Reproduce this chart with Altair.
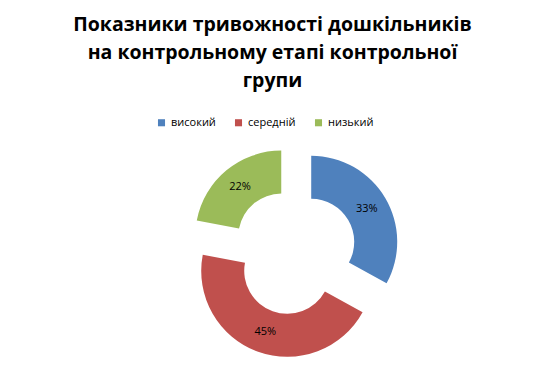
import math
import altair as alt
import pandas as pd

categories = ["високий", "середній", "низький"]
values = [33, 45, 22]
labels = ["33%", "45%", "22%"]
colors = ["#4F81BD", "#C0504D", "#9BBB59"]

title_lines = ["Показники тривожності дошкільників",
               "на контрольному етапі контрольної",
               "групи"]

# layout constants (pixels, relative to plot origin)
TOP = 125
W, H = 529, 367 - TOP
CX, CY = 286, 119
EXPLODE = 20
R_OUT, R_IN = 86, 43

total = sum(values)
rows = []
acc = 0
for i, (c, v, l) in enumerate(zip(categories, values, labels)):
    start, end = acc, acc + v
    acc = end
    mid = (start + end) / 2
    ang = mid / total * 2 * math.pi
    rows.append({
        "category": c, "value": v, "label": l, "order": i,
        "start": start, "end": end, "mid": mid,
        "cx": CX + EXPLODE * math.sin(ang),
        "cy": CY - EXPLODE * math.cos(ang),
    })
df = pd.DataFrame(rows)

theta_scale = alt.Scale(domain=[0, total], range=[0, 2 * math.pi])

base = alt.Chart(df).encode(
    x=alt.X("cx:Q", scale=None),
    y=alt.Y("cy:Q", scale=None),
)

arcs = base.mark_arc(outerRadius=R_OUT, innerRadius=R_IN).encode(
    theta=alt.Theta("start:Q", scale=theta_scale, stack=None),
    theta2="end:Q",
    color=alt.Color(
        "category:N",
        scale=alt.Scale(domain=categories, range=colors),
        legend=alt.Legend(
            title=None, orient="none", direction="horizontal",
            legendX=148, legendY=-16, symbolType="square", symbolSize=50,
            symbolStrokeWidth=0, labelFontSize=11, labelFont="Open Sans",
            labelColor="#000000", columnPadding=17, labelOffset=4,
        ),
        sort=categories,
    ),
)

texts = base.mark_text(radius=(R_OUT + R_IN) / 2, fontSize=11, font="Open Sans",
                       color="#000000").encode(
    theta=alt.Theta("mid:Q", scale=theta_scale, stack=None),
    text="label:N",
)

chart = alt.layer(arcs, texts).properties(
    width=W, height=H,
    padding={"left": 0, "top": TOP, "right": 0, "bottom": 0},
    autosize=alt.AutoSizeParams(type="none"),
    title=alt.TitleParams(
        text=title_lines, font="Open Sans", fontSize=19.5, fontWeight="bold",
        color="#000000", anchor="middle", lineHeight=28, offset=26,
    ),
).configure_view(stroke=None)

chart.save("out.html", embed_options={"renderer": "svg", "actions": False})
